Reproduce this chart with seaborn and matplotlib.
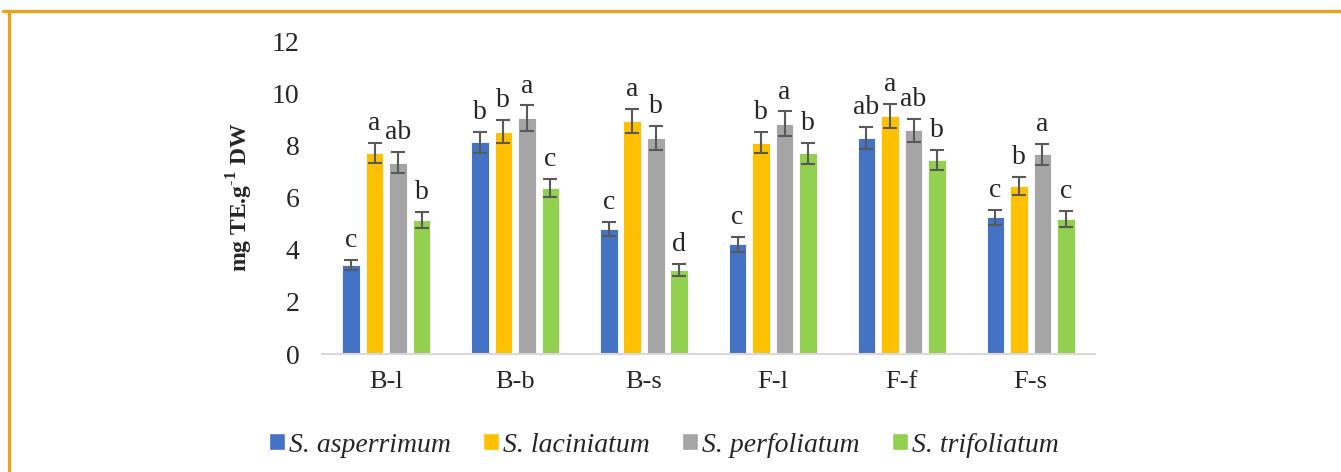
import pandas as pd
import matplotlib.pyplot as plt
import seaborn as sns
from matplotlib.patches import Patch
from matplotlib.lines import Line2D

# data
groups = ["B-l", "B-b", "B-s", "F-l", "F-f", "F-s"]
species = ["S. asperrimum", "S. laciniatum", "S. perfoliatum", "S. trifoliatum"]

asperrimum = [3.41, 8.12, 4.79, 4.20, 8.28, 5.24]
laciniatum = [7.71, 8.52, 8.93, 8.11, 9.12, 6.44]
perfoliatum = [7.33, 9.05, 8.29, 8.83, 8.58, 7.66]
trifoliatum = [5.13, 6.37, 3.24, 7.69, 7.43, 5.18]

err_asperrimum = [0.20, 0.40, 0.28, 0.30, 0.43, 0.28]
err_laciniatum = [0.40, 0.44, 0.45, 0.41, 0.46, 0.34]
err_perfoliatum = [0.40, 0.48, 0.45, 0.47, 0.45, 0.41]
err_trifoliatum = [0.30, 0.35, 0.23, 0.42, 0.38, 0.30]

let_asperrimum = ["c", "b", "c", "c", "ab", "c"]
let_laciniatum = ["a", "b", "a", "b", "a", "b"]
let_perfoliatum = ["ab", "a", "b", "a", "ab", "a"]
let_trifoliatum = ["b", "c", "d", "b", "b", "c"]

colors = ["#4472C4", "#FFC000", "#A5A5A5", "#92D050"]

means = [asperrimum, laciniatum, perfoliatum, trifoliatum]
errs = [err_asperrimum, err_laciniatum, err_perfoliatum, err_trifoliatum]
letters = [let_asperrimum, let_laciniatum, let_perfoliatum, let_trifoliatum]

rows = []
for sp, vals in zip(species, means):
    for g, v in zip(groups, vals):
        rows.append({"group": g, "species": sp, "value": v})
df = pd.DataFrame(rows)

sns.set_style("white")
plt.rcParams["font.family"] = ["Liberation Serif", "DejaVu Serif"]
plt.rcParams["mathtext.fontset"] = "custom"
plt.rcParams["mathtext.rm"] = "Liberation Serif"
plt.rcParams["mathtext.bf"] = "Liberation Serif:bold"

fig = plt.figure(figsize=(13.41, 4.72), dpi=100)
ax = fig.add_axes([0.240, 0.25, 0.5766, 0.663])

sns.barplot(data=df, x="group", y="value", hue="species", order=groups,
            hue_order=species, palette=colors, width=0.73, gap=0.25,
            errorbar=None, legend=False, ax=ax, saturation=1,
            edgecolor="white", linewidth=0.6)

# error bars and significance letters, placed on the drawn bars
for cont, er, lt in zip(ax.containers, errs, letters):
    xs = [b.get_x() + b.get_width() / 2 for b in cont]
    hs = [b.get_height() for b in cont]
    ax.errorbar(xs, hs, yerr=er, fmt="none", ecolor="#595959",
                elinewidth=1.5, capsize=5, capthick=1.5, zorder=5)
    for x, h, e, t in zip(xs, hs, er, lt):
        ax.annotate(t, (x, h + e), xytext=(0, 5), textcoords="offset points",
                    ha="center", va="bottom", fontsize=20)

ax.set_ylim(0, 12)
ax.set_yticks(range(0, 13, 2))
ax.set_xlim(-0.5, 5.5)
ax.set_xlabel("")
ax.set_ylabel("mg TE.g$^{\\mathbf{\\text{-}1}}$ DW", fontsize=17,
              fontweight="bold", labelpad=12)
ax.tick_params(axis="y", length=0, labelsize=20, pad=16)
ax.tick_params(axis="x", length=0, labelsize=19, pad=12)
for s in ["top", "right", "left"]:
    ax.spines[s].set_visible(False)
ax.spines["bottom"].set_color("#D9D9D9")
ax.spines["bottom"].set_linewidth(1.5)

handles = [Patch(facecolor=c, edgecolor="white") for c in colors]
fig.legend(handles, species, loc="center", bbox_to_anchor=(0.495, 0.057),
           ncol=4, frameon=False, handlelength=0.58, handleheight=0.58,
           handletextpad=0.15, columnspacing=1.15,
           prop={"family": "Liberation Serif", "style": "italic", "size": 20})

# orange frame (top and left sides)
fig.add_artist(Line2D([0.002, 1.0], [0.9767, 0.9767], transform=fig.transFigure,
                      color="#EBA118", linewidth=2.4))
fig.add_artist(Line2D([0.0067, 0.0067], [0.0, 0.9767], transform=fig.transFigure,
                      color="#EBA118", linewidth=2.4))

fig.savefig("out.png", dpi=100)
